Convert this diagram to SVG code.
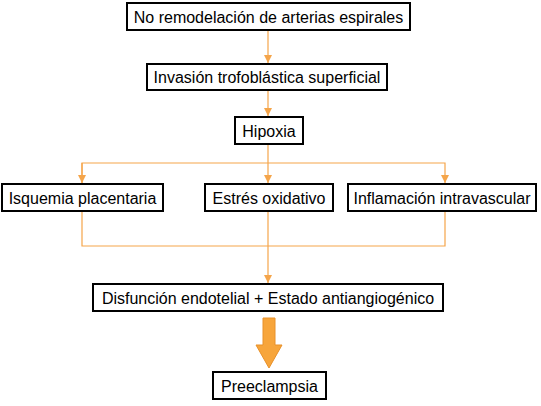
<svg xmlns="http://www.w3.org/2000/svg" width="541" height="406" viewBox="0 0 541 406">
<style>
.box{fill:#fff;stroke:#000;stroke-width:2}
.t{font-family:"Liberation Sans",Arial,sans-serif;font-size:16px;fill:#000;text-anchor:middle}
.c{fill:none;stroke:#F5A54A;stroke-width:1.2}
</style>
<defs>
<marker id="ah" viewBox="0 0 10 10" refX="10" refY="5" markerWidth="8" markerHeight="8" markerUnits="userSpaceOnUse" orient="auto">
<path d="M0,0 L10,5 L0,10 z" fill="#F5A54A"/>
</marker>
</defs>
<rect width="541" height="406" fill="#fff"/>
<g id="connectors">
<line class="c" x1="268" y1="30" x2="268" y2="63" marker-end="url(#ah)"/>
<line class="c" x1="268" y1="90" x2="268" y2="116" marker-end="url(#ah)"/>
<line class="c" x1="268" y1="144" x2="268" y2="183" marker-end="url(#ah)"/>
<polyline class="c" points="82,183 82,163 445,163 445,183" marker-end="url(#ah)"/>
<line class="c" x1="82" y1="163" x2="82" y2="183" marker-end="url(#ah)"/>
<polyline class="c" points="82,211 82,246 445,246 445,211"/>
<line class="c" x1="268" y1="211" x2="268" y2="283" marker-end="url(#ah)"/>
<path d="M263,318 H275 V345 H282 L269,368 L256,345 H263 Z" fill="#F7A53B" stroke="#E8912A" stroke-width="1"/>
</g>
<g id="n1"><rect class="box" x="127" y="3" width="283" height="27"/><text class="t" x="268.5" y="22.5">No remodelación de arterias espirales</text></g>
<g id="n2"><rect class="box" x="147" y="64" width="240" height="26"/><text class="t" x="267" y="82.5">Invasión trofoblástica superficial</text></g>
<g id="n3"><rect class="box" x="235" y="117" width="68" height="27"/><text class="t" x="269" y="136.5">Hipoxia</text></g>
<g id="n4"><rect class="box" x="2" y="184" width="161" height="27"/><text class="t" x="82.5" y="203.5">Isquemia placentaria</text></g>
<g id="n5"><rect class="box" x="205" y="184" width="128" height="27"/><text class="t" x="269" y="203.5">Estrés oxidativo</text></g>
<g id="n6"><rect class="box" x="348" y="184" width="188" height="27"/><text class="t" x="442" y="203.5">Inflamación intravascular</text></g>
<g id="n7"><rect class="box" x="93" y="284" width="350" height="27"/><text class="t" x="268" y="303.5">Disfunción endotelial + Estado antiangiogénico</text></g>
<g id="n8"><rect class="box" x="213" y="372" width="113" height="27"/><text class="t" x="269.5" y="391.5">Preeclampsia</text></g>
</svg>
